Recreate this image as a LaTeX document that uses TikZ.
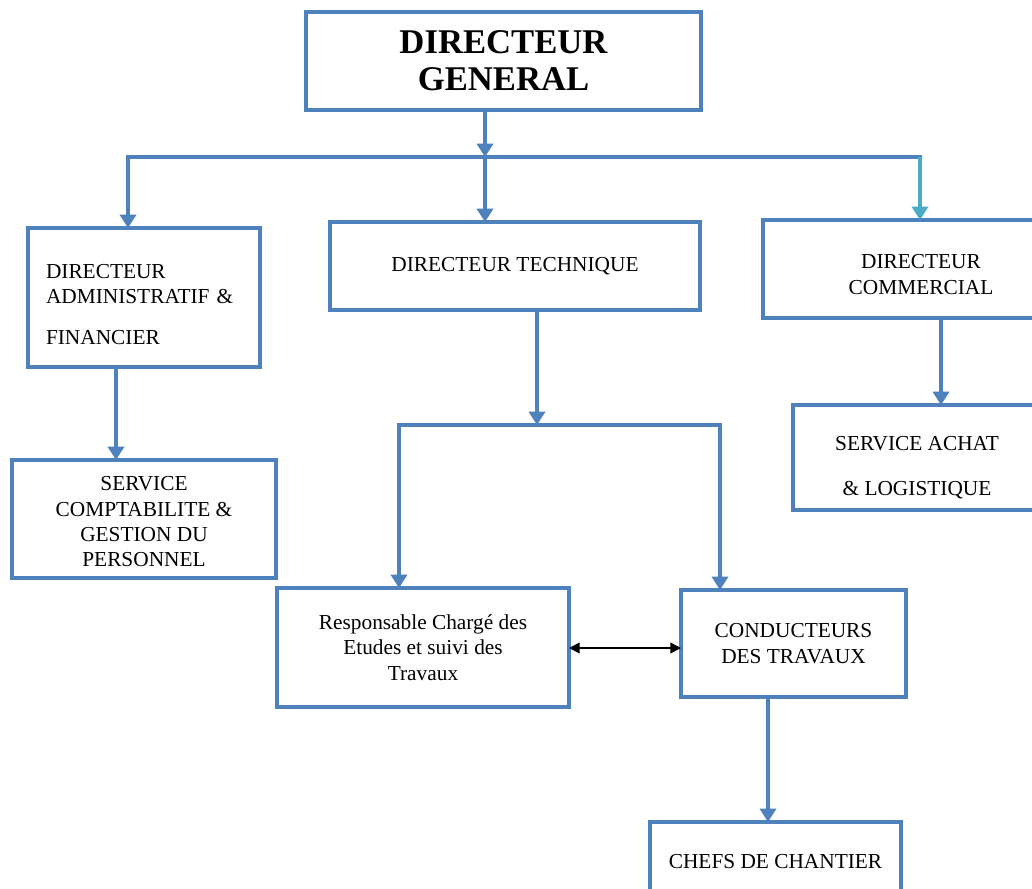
\documentclass[tikz,border=0pt]{standalone}
\usepackage{fontspec}
\setmainfont{Liberation Serif}
\usetikzlibrary{arrows.meta}
\definecolor{boxblue}{HTML}{4F81BD}
\definecolor{tealarrow}{HTML}{4BACC6}
\begin{document}
\begin{tikzpicture}[x=0.75pt,y=-0.75pt,
  box/.style={draw=boxblue,line width=3pt,inner sep=0pt,outer sep=0pt,align=center,font=\fontsize{16}{19}\selectfont},
  conn/.style={draw=boxblue,line width=3pt,-{Triangle[length=10pt,width=12pt]}},
  link/.style={draw=boxblue,line width=3pt,line cap=rect},
  dbl/.style={draw=black,line width=1.2pt,{Triangle[length=8pt,width=8pt]}-{Triangle[length=8pt,width=8pt]}}
]
\useasboundingbox (0,0) rectangle (1032,889);
\fill[white] (0,0) rectangle (1032,889);

\node[box,minimum width=296.25pt,minimum height=73.5pt,font=\fontsize{26}{28}\selectfont\bfseries] (dg) at (503.5,61) {DIRECTEUR\\GENERAL};
\node[box,minimum width=174pt,minimum height=104.25pt,align=left,text width=147pt] (daf) at (144,297.5) {\rule{0pt}{21pt}DIRECTEUR\\ADMINISTRATIF \&\\[12pt]FINANCIER};
\node[box,minimum width=277.5pt,minimum height=66pt] (dt) at (515,266) {DIRECTEUR TECHNIQUE};
\node[box,minimum width=237pt,minimum height=73.5pt] (dc) at (921,269) {\rule{0pt}{19pt}DIRECTEUR\\COMMERCIAL};
\node[box,minimum width=186pt,minimum height=78.75pt,font=\fontsize{16}{34}\selectfont] (sal) at (917,457.5) {\rule{0pt}{26pt}SERVICE ACHAT\\\& LOGISTIQUE};
\node[box,minimum width=198pt,minimum height=88.5pt] (scgp) at (144,519) {\rule{0pt}{15pt}SERVICE\\COMPTABILITE \&\\GESTION DU\\PERSONNEL};
\node[box,minimum width=219pt,minimum height=89.25pt] (rce) at (423,647.5) {Responsable Chargé des\\Etudes et suivi des\\Travaux};
\node[box,minimum width=168.75pt,minimum height=80.25pt] (ct) at (793.5,643.5) {CONDUCTEURS\\DES TRAVAUX};
\node[box,minimum width=188.25pt,minimum height=60pt] (cc) at (775.5,862) {CHEFS DE CHANTIER};

\coordinate (b1) at (485,157);
\coordinate (bl) at (128,157);
\coordinate (br) at (920,157);
\coordinate (xa) at (116,0);
\coordinate (b2) at (537,425);
\coordinate (b2l) at (399,425);
\coordinate (b2r) at (720,425);
\coordinate (xc) at (941,0);
\coordinate (xt) at (768,0);

\draw[conn] (dg.south -| b1) -- (b1);
\draw[link] (b1) -- (br);
\draw[conn] (b1) -| (daf.north -| bl);
\draw[conn] (b1) -- (dt.north -| b1);
\draw[conn,draw=tealarrow] (br) -- (dc.north -| br);

\draw[conn] (daf.south -| xa) -- (scgp.north -| xa);

\draw[conn] (dt.south -| b2) -- (b2);
\draw[conn] (b2r) -| (rce.north -| b2l);
\draw[conn] (b2l) -| (ct.north -| b2r);

\draw[conn] (dc.south -| xc) -- (sal.north -| xc);
\draw[conn] (ct.south -| xt) -- (cc.north -| xt);

\draw[dbl] (rce.east |- 0,648) -- (ct.west |- 0,648);
\end{tikzpicture}
\end{document}
